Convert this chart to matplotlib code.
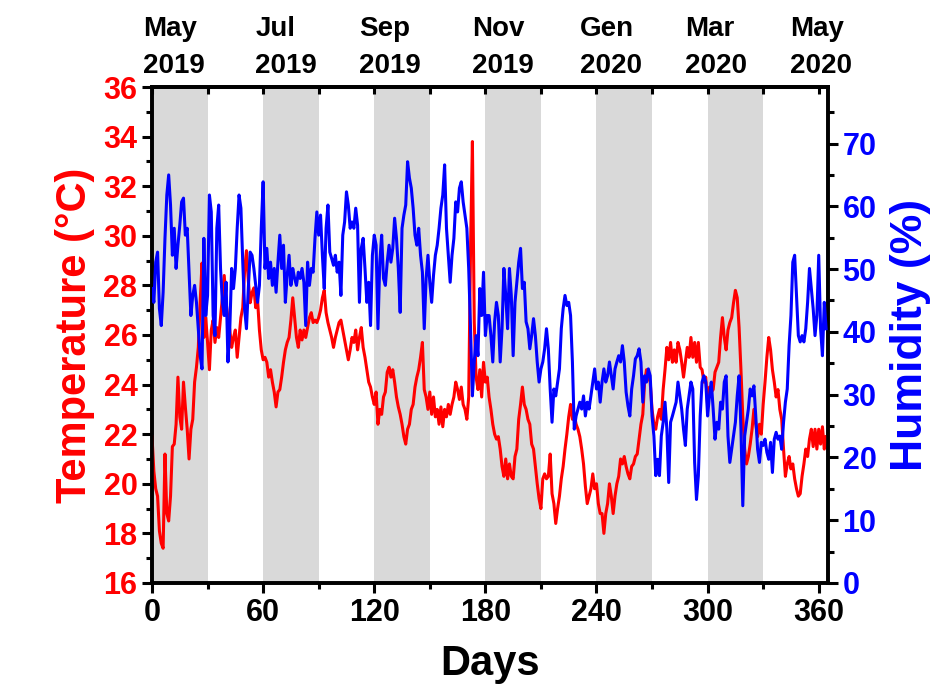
import numpy as np
import matplotlib
matplotlib.use("Agg")
import matplotlib.pyplot as plt
from matplotlib.ticker import MultipleLocator
from matplotlib.transforms import blended_transform_factory

plt.rcParams['font.family'] = ['Liberation Sans', 'DejaVu Sans']
plt.rcParams['font.weight'] = 'bold'

# daily mean temperature (°C), day 0 .. 364
temperature = [
    21.9, 20.5, 19.8, 19.5, 18.1, 17.6, 17.4, 21.2, 18.8, 18.5,
    19.5, 21.5, 21.6, 22.4, 24.3, 22.7, 22.2, 24.1, 23.1, 22.2,
    21.0, 22.2, 22.6, 24.1, 24.7, 25.5, 27.3, 28.9, 25.9, 26.7,
    25.7, 24.6, 26.2, 26.6, 25.7, 26.3, 25.9, 26.7, 27.5, 28.4,
    27.3, 26.7, 26.2, 25.5, 25.9, 26.2, 25.1, 25.9, 26.7, 27.1,
    28.6, 29.4, 28.2, 27.3, 27.7, 27.9, 27.1, 27.4, 26.2, 25.4,
    25.0, 25.1, 24.9, 24.3, 24.6, 24.1, 23.7, 23.1, 23.7, 23.8,
    24.3, 24.9, 25.4, 25.7, 25.9, 26.6, 27.5, 26.7, 25.9, 25.5,
    26.2, 25.8, 26.2, 25.9, 26.3, 26.7, 26.9, 26.5, 26.6, 26.5,
    26.7, 27.0, 27.5, 27.8, 26.9, 26.5, 26.2, 25.9, 25.5, 25.9,
    26.2, 26.5, 26.6, 26.2, 25.8, 25.4, 25.0, 25.4, 25.9, 25.7,
    26.2, 25.4, 25.9, 26.3, 25.5, 25.1, 24.6, 24.1, 23.9, 23.5,
    23.2, 23.7, 22.4, 23.0, 22.8, 23.5, 23.7, 24.5, 24.7, 24.3,
    24.6, 24.1, 23.5, 23.1, 22.8, 22.4, 21.9, 21.6, 22.2, 22.4,
    23.0, 23.2, 23.9, 24.3, 24.6, 25.1, 25.7, 23.8, 23.5, 23.0,
    23.7, 22.8, 23.5, 22.7, 23.0, 22.4, 23.1, 22.3, 23.0, 22.7,
    23.2, 22.8, 23.2, 23.5, 24.1, 23.8, 23.4, 23.9, 23.2, 23.0,
    22.6, 23.5, 29.5, 33.8, 26.5, 24.3, 23.8, 24.6, 23.5, 24.9,
    24.1, 24.3, 23.5, 23.0, 22.4, 22.0, 21.8, 21.9, 21.4, 20.7,
    20.3, 21.0, 20.2, 20.8, 20.3, 20.2, 21.1, 21.4, 22.6, 23.2,
    23.9, 23.2, 23.0, 22.6, 22.4, 21.6, 21.4, 20.7, 20.0, 19.4,
    19.0, 20.2, 20.4, 20.2, 20.3, 21.2, 19.6, 19.2, 18.4, 19.0,
    19.5, 20.2, 20.7, 21.4, 22.0, 22.7, 23.2, 22.6, 22.8, 22.4,
    22.2, 21.9, 21.4, 20.8, 19.9, 19.2, 19.5, 19.8, 20.4, 19.8,
    20.0, 19.2, 18.8, 18.8, 18.0, 18.8, 19.2, 20.0, 19.5, 18.8,
    19.5, 20.0, 20.3, 21.0, 20.8, 21.1, 20.7, 20.4, 20.2, 20.7,
    20.8, 21.1, 21.2, 21.8, 22.4, 22.8, 24.1, 24.6, 24.3, 24.1,
    23.0, 22.4, 22.2, 22.7, 23.0, 22.6, 23.8, 24.6, 25.5, 25.0,
    25.7, 24.9, 25.4, 24.9, 25.7, 25.4, 24.9, 24.3, 24.9, 25.5,
    25.1, 25.9, 25.1, 25.7, 24.9, 25.7, 24.7, 24.6, 24.1, 24.3,
    23.2, 23.9, 23.7, 23.8, 24.5, 24.7, 24.9, 25.9, 26.7, 25.9,
    25.4, 26.2, 26.5, 26.7, 27.3, 27.8, 27.5, 26.3, 24.6, 22.7,
    21.4, 20.8, 21.1, 21.6, 22.2, 23.0, 22.4, 21.9, 22.4, 22.0,
    23.2, 24.1, 25.1, 25.9, 25.4, 24.6, 24.1, 23.5, 23.8, 23.0,
    22.6, 21.4, 20.3, 20.8, 21.1, 20.6, 20.8, 20.2, 19.8, 19.5,
    19.6, 20.3, 20.8, 21.4, 21.1, 21.8, 22.2, 21.5, 22.2, 21.4,
    22.2, 21.6, 22.3, 21.4, 21.9,
]

# daily mean relative humidity (%), day 0 .. 364
humidity = [
    46.9, 44.7, 51.1, 52.7, 43.7, 41.0, 46.3, 54.9, 61.8, 65.0,
    60.2, 52.2, 56.5, 50.1, 53.8, 57.0, 60.7, 61.3, 55.4, 56.5,
    49.5, 42.6, 45.8, 47.4, 44.7, 40.5, 36.2, 34.1, 54.9, 42.6,
    45.8, 61.8, 59.1, 42.6, 39.4, 56.5, 60.2, 50.1, 44.7, 42.6,
    47.9, 35.2, 40.5, 50.1, 46.9, 50.1, 56.5, 61.8, 59.7, 51.1,
    43.7, 40.5, 46.9, 52.7, 52.2, 50.1, 47.4, 44.7, 47.4, 56.5,
    63.9, 50.1, 53.3, 48.5, 51.1, 47.4, 50.1, 46.3, 51.1, 55.4,
    50.1, 53.8, 44.7, 49.0, 52.2, 47.4, 50.1, 48.5, 47.4, 49.5,
    48.5, 50.1, 47.9, 41.0, 51.1, 47.4, 50.1, 49.5, 54.9, 59.1,
    55.4, 58.6, 52.2, 46.9, 56.5, 60.2, 52.7, 51.7, 50.6, 52.2,
    49.5, 51.1, 45.8, 55.4, 57.5, 62.3, 60.2, 56.5, 57.5, 56.5,
    59.7, 57.0, 44.7, 53.3, 54.9, 50.1, 44.7, 47.9, 41.0, 52.2,
    55.4, 53.8, 40.5, 51.1, 55.4, 48.5, 47.4, 51.1, 53.8, 51.1,
    53.3, 58.1, 54.9, 50.1, 43.1, 56.5, 58.6, 60.2, 67.1, 64.5,
    62.9, 59.7, 55.4, 53.8, 56.5, 52.2, 49.5, 40.5, 48.5, 52.2,
    47.9, 44.7, 49.0, 52.2, 53.8, 56.5, 59.7, 61.8, 66.6, 56.5,
    52.2, 47.9, 52.2, 54.9, 60.7, 59.1, 62.9, 63.9, 60.7, 58.6,
    56.5, 50.1, 40.5, 29.8, 35.2, 39.4, 36.2, 46.9, 42.6, 49.5,
    39.4, 42.6, 42.6, 39.4, 35.2, 41.6, 44.7, 42.6, 35.2, 40.5,
    50.1, 45.8, 40.5, 50.1, 45.8, 36.2, 44.7, 47.9, 51.1, 53.3,
    46.9, 47.9, 41.6, 40.5, 37.3, 39.4, 42.1, 39.4, 35.2, 32.0,
    34.1, 35.2, 37.3, 40.5, 37.3, 30.9, 25.6, 30.9, 29.8, 32.0,
    34.1, 40.5, 43.7, 45.8, 44.2, 44.7, 42.6, 35.2, 24.5, 26.6,
    27.7, 28.8, 27.7, 29.8, 26.6, 28.8, 27.7, 29.8, 32.0, 34.1,
    30.9, 32.0, 28.8, 32.0, 34.1, 32.0, 33.0, 35.2, 33.0, 30.9,
    34.1, 35.2, 36.2, 35.2, 37.8, 35.2, 30.4, 28.2, 26.6, 30.9,
    33.0, 35.7, 36.2, 37.3, 35.2, 28.8, 33.0, 32.0, 34.1, 33.0,
    26.6, 23.4, 17.1, 19.7, 17.1, 23.4, 25.6, 28.8, 24.5, 16.0,
    25.6, 26.6, 27.7, 28.8, 32.0, 29.8, 27.7, 24.5, 21.9, 27.7,
    29.8, 32.0, 30.9, 19.2, 13.3, 17.1, 26.6, 32.0, 33.0, 32.0,
    26.6, 29.8, 32.0, 27.7, 22.9, 25.6, 24.5, 28.8, 27.7, 32.0,
    33.0, 23.4, 19.2, 21.3, 23.4, 25.6, 29.8, 33.0, 24.5, 12.3,
    23.4, 25.6, 27.7, 30.9, 29.8, 31.4, 26.6, 21.3, 19.2, 22.4,
    21.9, 22.9, 20.8, 19.7, 22.4, 17.6, 22.9, 24.0, 22.9, 23.4,
    21.3, 25.6, 28.8, 30.9, 37.8, 42.6, 51.1, 52.2, 45.8, 39.4,
    38.4, 39.4, 38.4, 40.5, 44.7, 50.1, 46.9, 43.7, 39.4, 42.6,
    52.2, 40.5, 36.2, 44.7, 40.5,
]

days = np.arange(len(temperature))

months = ['May', 'Jul', 'Sep', 'Nov', 'Gen', 'Mar', 'May']
years = ['2019', '2019', '2019', '2019', '2020', '2020', '2020']
# left edge (in days) of each month label above the frame
month_label_x = [-4.9, 55.8, 112.0, 173.0, 230.9, 287.7, 344.5]
band_starts = [0, 60, 120, 180, 240, 300]
band_width = 30

fig = plt.figure(figsize=(9.36, 6.84), dpi=100)
ax = fig.add_axes([0.1624, 0.1477, 0.7222, 0.7251])

for s in band_starts:
    ax.axvspan(s, s + band_width, color='#d9d9d9', lw=0, zorder=0)

ax.plot(days, temperature, color='#ff0000', lw=2.2, zorder=3)
ax.set_xlim(0, 365)
ax.set_ylim(16, 36)
ax.xaxis.set_major_locator(MultipleLocator(60))
ax.xaxis.set_minor_locator(MultipleLocator(30))
ax.yaxis.set_major_locator(MultipleLocator(2))
ax.yaxis.set_minor_locator(MultipleLocator(1))
ax.tick_params(axis='both', which='major', length=7, width=2.2, labelsize=22)
ax.tick_params(axis='both', which='minor', length=4, width=2.2)
ax.tick_params(axis='y', which='both', labelcolor='#ff0000')
ax.set_xlabel('Days', fontsize=30, fontweight='bold', labelpad=12)
ax.set_ylabel('Temperature (°C)', fontsize=30, fontweight='bold', color='#ff0000', labelpad=6)
for sp in ax.spines.values():
    sp.set_linewidth(2.6)

ax2 = ax.twinx()
ax2.plot(days, humidity, color='#0000ff', lw=2.2, zorder=3)
ax2.set_ylim(0, 79)
ax2.yaxis.set_major_locator(MultipleLocator(10))
ax2.yaxis.set_minor_locator(MultipleLocator(5))
ax2.tick_params(axis='y', which='major', length=7, width=2.2, labelsize=22, labelcolor='#0000ff')
ax2.tick_params(axis='y', which='minor', length=4, width=2.2)
ax2.set_ylabel('Humidity (%)', fontsize=32, fontweight='bold', color='#0000ff', labelpad=10)
for sp in ax2.spines.values():
    sp.set_linewidth(2.6)

top = ax.secondary_xaxis('top')
top.xaxis.set_major_locator(MultipleLocator(30))
top.tick_params(axis='x', which='major', direction='in', length=5, width=2.2, labeltop=False)
top.spines['top'].set_linewidth(2.6)

trans = blended_transform_factory(ax.transData, fig.transFigure)
for xm, m, yr in zip(month_label_x, months, years):
    ax.text(xm, 0.9474, m, transform=trans, ha='left', va='baseline',
            fontsize=20, fontweight='bold', clip_on=False)
    ax.text(xm, 0.8933, yr, transform=trans, ha='left', va='baseline',
            fontsize=20, fontweight='bold', clip_on=False)

fig.savefig('out.png', dpi=100)
